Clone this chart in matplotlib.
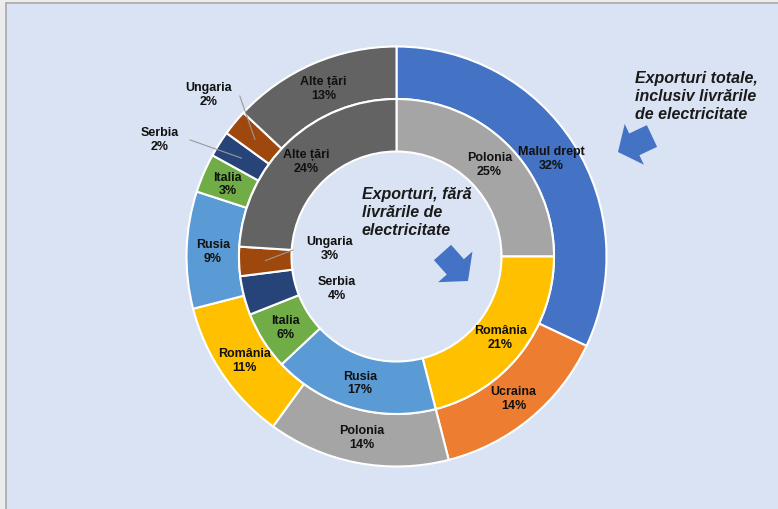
import matplotlib
matplotlib.use('Agg')
import matplotlib.pyplot as plt
import numpy as np
from matplotlib.patches import Rectangle, FancyArrow

plt.rcParams['font.family'] = ['Liberation Sans', 'DejaVu Sans']

# inelul exterior - exporturi totale, inclusiv livrarile de electricitate
ext_labels = ['Malul drept', 'Ucraina', 'Polonia', 'România', 'Rusia',
              'Italia', 'Serbia', 'Ungaria', 'Alte țări']
ext_values = [32, 14, 14, 11, 9, 3, 2, 2, 13]
ext_colors = ['#4472C4', '#ED7D31', '#A5A5A5', '#FFC000', '#5B9BD5',
              '#70AD47', '#264478', '#9E480E', '#636363']

# inelul interior - exporturi fara livrarile de electricitate
int_labels = ['Polonia', 'România', 'Rusia', 'Italia', 'Serbia', 'Ungaria', 'Alte țări']
int_values = [25, 21, 17, 6, 4, 3, 24]
int_colors = ['#A5A5A5', '#FFC000', '#5B9BD5', '#70AD47', '#264478', '#9E480E', '#636363']

fig = plt.figure(figsize=(7.78, 5.10), dpi=100)
fig.patch.set_facecolor('#ececec')

# fundalul (pixeli, y in jos)
bg = fig.add_axes([0, 0, 1, 1])
bg.set_xlim(0, 778)
bg.set_ylim(510, 0)
bg.axis('off')
bg.add_patch(Rectangle((6, 4), 780, 520, facecolor='#dae3f3', edgecolor='#a8a8a8', lw=1.2))

# gogoasa
ax = fig.add_axes([186.5 / 778, 42.5 / 510, 420 / 778, 420 / 510])
ax.set_facecolor('none')
w_ext, _ = ax.pie(ext_values, radius=1, colors=ext_colors, startangle=90, counterclock=False,
                  wedgeprops=dict(width=0.25, edgecolor='white', linewidth=1.5))
w_int, _ = ax.pie(int_values, radius=0.75, colors=int_colors, startangle=90, counterclock=False,
                  wedgeprops=dict(width=0.25, edgecolor='white', linewidth=1.5))
ax.set_xlim(-1, 1)
ax.set_ylim(-1, 1)
ax.axis('off')

# etichete mutate in afara feliei (pozitie, inceputul liniei)
ext_moved = {'Serbia': ((-1.126, 0.560), (-0.983, 0.555)),
             'Ungaria': ((-0.893, 0.774), (-0.746, 0.764))}
int_moved = {'Serbia': ((-0.283, -0.150), None),
             'Ungaria': ((-0.317, 0.040), (-0.493, 0.031))}


def put_labels(wedges, labels, values, r, moved):
    for w, lab, v in zip(wedges, labels, values):
        ang = np.deg2rad((w.theta1 + w.theta2) / 2)
        mx, my = r * np.cos(ang), r * np.sin(ang)
        x, y = mx, my
        if lab in moved:
            (x, y), start = moved[lab]
            if start is not None:
                ax.plot([start[0], mx], [start[1], my], color='#9a9a9a', lw=0.8, clip_on=False)
        ax.text(x, y, f'{lab}\n{v}%', ha='center', va='center', fontsize=9,
                fontweight='bold', color='#111111', linespacing=1.2)


put_labels(w_ext, ext_labels, ext_values, 0.875, ext_moved)
put_labels(w_int, int_labels, int_values, 0.625, int_moved)

# adnotari si sageti
ov = fig.add_axes([0, 0, 1, 1], facecolor='none')
ov.set_xlim(0, 778)
ov.set_ylim(510, 0)
ov.axis('off')

# va='baseline' se aliniaza pe ultimul rand
ov.text(635, 119, 'Exporturi totale,\ninclusiv livrările\nde electricitate', fontsize=11.5,
        fontweight='bold', style='italic', ha='left', va='baseline', linespacing=1.27,
        color='#1a1a1a')
ov.text(362, 235, 'Exporturi, fără\nlivrările de\nelectricitate', fontsize=11.5,
        fontweight='bold', style='italic', ha='left', va='baseline', linespacing=1.27,
        color='#1a1a1a')

ov.add_patch(FancyArrow(652, 137, -34, 16, width=24, head_width=45, head_length=18,
                        length_includes_head=True, color='#4472C4', lw=0))
ov.add_patch(FancyArrow(442.5, 253.5, 25.5, 28.5, width=23, head_width=46, head_length=19,
                        length_includes_head=True, color='#4472C4', lw=0))

fig.savefig('out.png', dpi=100, facecolor=fig.get_facecolor())
